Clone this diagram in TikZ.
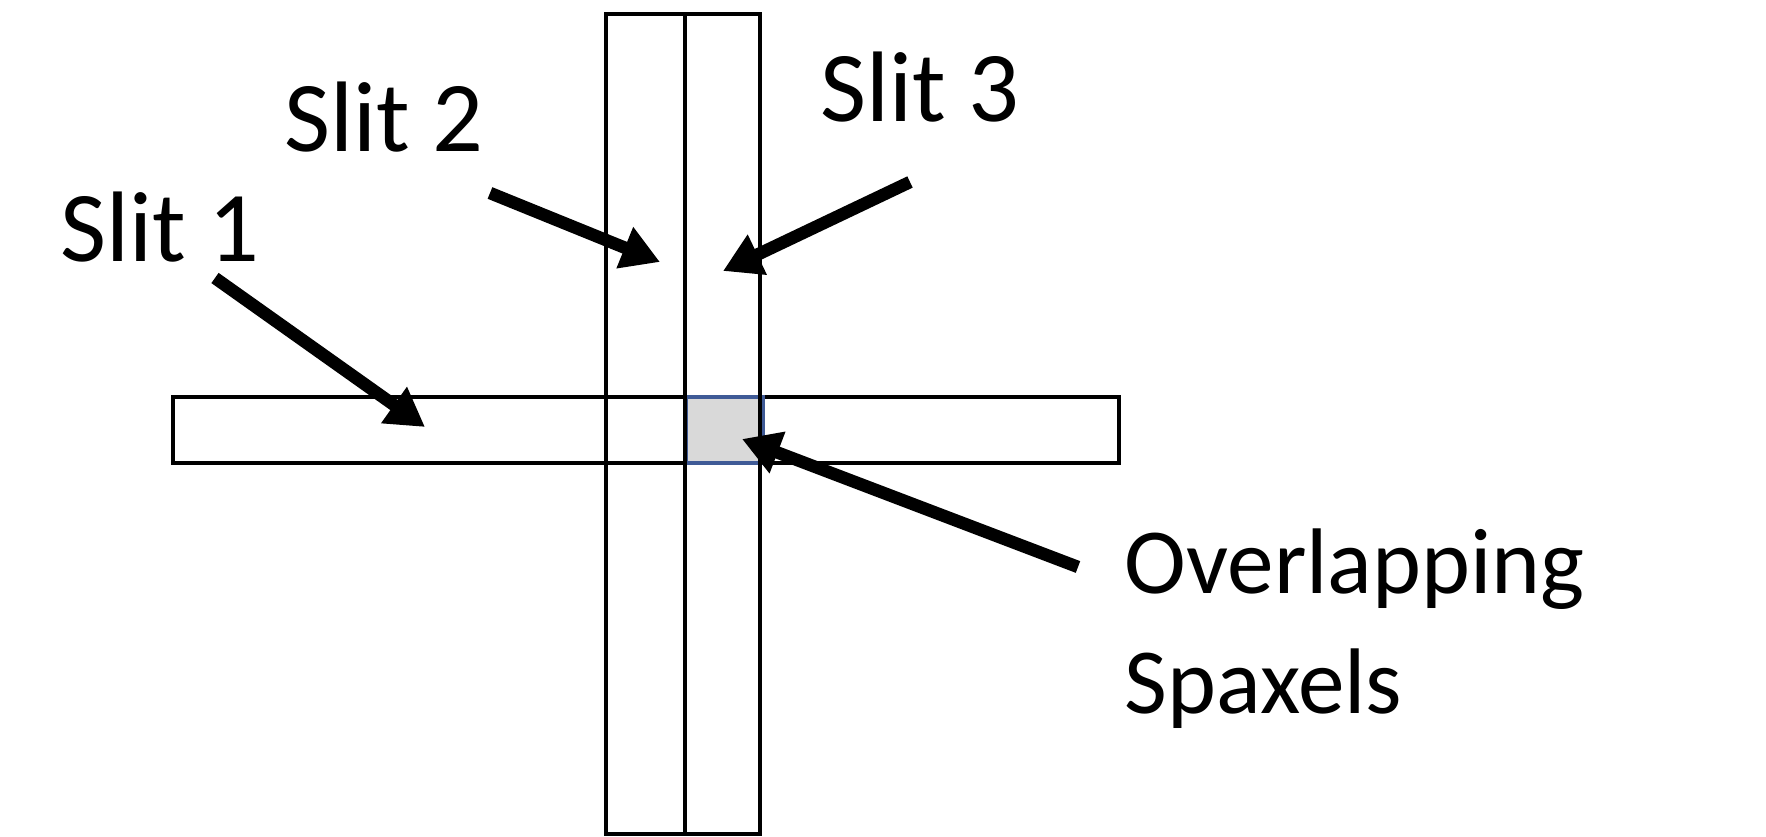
\documentclass[tikz,border=0pt]{standalone}
\usepackage{fontspec}
\setmainfont{Carlito}
\usetikzlibrary{arrows.meta}

\definecolor{slitblue}{RGB}{63,90,150}
\definecolor{spaxgray}{RGB}{217,217,217}

\tikzset{
  lbl/.style={inner sep=0pt, anchor=base west, font=\fontsize{28.5pt}{34.2pt}\selectfont},
  biglbl/.style={lbl, align=left, font=\fontsize{26.5pt}{34.1pt}\selectfont},
  bigarrow/.style={line width=0.125cm, -{Triangle[length=0.38cm, width=0.42cm]}},
  slitline/.style={line width=0.036cm}
}

\begin{document}
\begin{tikzpicture}[x=0.01cm, y=-0.01cm]
            \useasboundingbox (0, 0) rectangle (1766, 837);
            \draw[slitline] (173, 397) rectangle (1119, 463);
            \filldraw[fill=spaxgray, draw=slitblue, slitline] (686, 397) rectangle (763, 463);
            \draw[slitline] (606, 14) rectangle (760, 834);
            \draw[slitline] (685, 14)--(685, 834);
            \node[lbl] (s1) at (60, 262) {Slit 1};
            \node[lbl] (s2) at (284, 152) {Slit 2};
            \node[lbl] (s3) at (820, 122) {Slit 3};
            \node[biglbl] (ov) at (1124, 713) {Overlapping\\Spaxels};
            \coordinate (s1tail) at (215, 278);
            \coordinate (s1tip) at (425, 427);
            \coordinate (s2tail) at (490, 193);
            \coordinate (s2tip) at (660, 262);
            \coordinate (s3tail) at (910, 182);
            \coordinate (s3tip) at (723, 271);
            \coordinate (ovtail) at (1078, 567);
            \coordinate (ovtip) at (742, 439);
            \draw[bigarrow] (s1tail)--(s1tip);
            \draw[bigarrow] (s2tail)--(s2tip);
            \draw[bigarrow] (s3tail)--(s3tip);
            \draw[bigarrow] (ovtail)--(ovtip);
        \end{tikzpicture}
\end{document}
